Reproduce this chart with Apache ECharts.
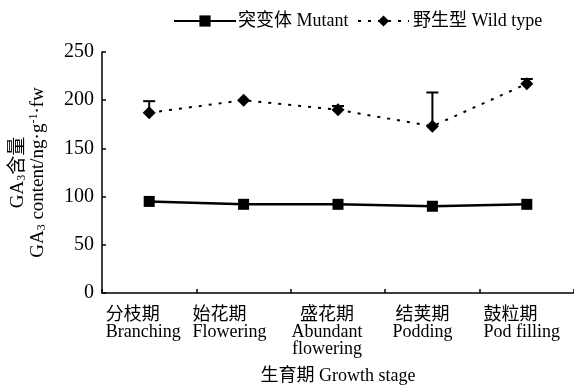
<!DOCTYPE html>
<html>
<head>
<meta charset="utf-8">
<style>
  html, body { margin: 0; padding: 0; background: #fff; }
  #chart { width: 574px; height: 390px; }
</style>
<script src="https://cdn.jsdelivr.net/npm/echarts@6/dist/echarts.min.js"></script>
</head>
<body>
<div id="chart"></div>
<script>
// Growth stages (Chinese name / English name)
const stagesZh = ['分枝期', '始花期', '盛花期', '结荚期', '鼓粒期'];
const stagesEn = ['Branching', 'Flowering', 'Abundant\nflowering', 'Podding', 'Pod filling'];

// GA3 content, ng·g-1·fw
const mutant = [95, 92, 92, 90, 92];
const wildType = [187, 200, 190, 173, 217];
const wildTypeErr = [12, 0, 4, 35, 5];

const yTicks = { min: 0, max: 250, step: 50 };

const SERIF = "'Liberation Serif', 'Noto Sans CJK SC', serif";
const INK = '#000';

// label block alignment and horizontal nudge per stage
const labelAlign = ['left', 'left', 'center', 'center', 'left'];
const labelNudge = [-6, -14, -11, -10, -5];

const chart = echarts.init(document.getElementById('chart'), null, { renderer: 'canvas' });

const categories = stagesZh.map((zh, i) => ({
  value: zh + '\n' + stagesEn[i],
  textStyle: {
    padding: labelNudge[i] < 0 ? [0, -2 * labelNudge[i], 0, 0] : [0, 0, 0, 2 * labelNudge[i]]
  }
}));

const errorBars = {
  type: 'custom',
  name: 'wild-err',
  z: 1,
  silent: true,
  data: wildType.map((v, i) => [i, v, v + wildTypeErr[i]]),
  renderItem: function (params, api) {
    const i = api.value(0);
    const lo = api.coord([i, api.value(1)]);
    const hi = api.coord([i, api.value(2)]);
    if (api.value(2) <= api.value(1)) return null;
    const half = 6;
    const st = { stroke: INK, lineWidth: 2 };
    return {
      type: 'group',
      children: [
        { type: 'line', shape: { x1: lo[0], y1: lo[1], x2: hi[0], y2: hi[1] }, style: st },
        { type: 'line', shape: { x1: hi[0] - half, y1: hi[1], x2: hi[0] + half, y2: hi[1] }, style: st }
      ]
    };
  }
};

const option = {
  backgroundColor: '#fff',
  animation: false,
  legend: [
    {
      data: ['突变体 Mutant'],
      left: 173, top: 12, padding: 0,
      itemWidth: 62, itemHeight: 14, itemGap: 0,
      textStyle: { fontFamily: SERIF, fontSize: 18, color: INK, padding: [0, 0, 0, -3] }
    },
    {
      data: ['野生型 Wild type'],
      left: 357, top: 12, padding: 0,
      itemWidth: 51, itemHeight: 14, itemGap: 0,
      textStyle: { fontFamily: SERIF, fontSize: 18, color: INK, padding: [0, 0, 0, -1] }
    }
  ],
  grid: { left: 102, right: 0, top: 52, bottom: 94, containLabel: false },
  xAxis: {
    type: 'category',
    data: categories,
    boundaryGap: true,
    name: '生育期 Growth stage',
    nameLocation: 'middle',
    nameGap: 74,
    nameTextStyle: { fontFamily: SERIF, fontSize: 18, color: INK },
    axisLine: { lineStyle: { color: INK, width: 1.5 } },
    axisTick: { show: true, inside: true, length: 4, alignWithLabel: false, lineStyle: { color: INK, width: 1.5 } },
    axisLabel: {
      interval: 0,
      margin: 14,
      color: INK,
      fontFamily: SERIF,
      fontSize: 18,
      lineHeight: 17,
      formatter: function (val, idx) {
        const key = labelAlign[idx] === 'left' ? 'l' : 'c';
        return val.split('\n').map(s => '{' + key + '|' + s + '}').join('\n');
      },
      rich: {
        l: { align: 'left', fontFamily: SERIF, fontSize: 18, lineHeight: 17, color: INK },
        c: { align: 'center', fontFamily: SERIF, fontSize: 18, lineHeight: 17, color: INK }
      }
    }
  },
  yAxis: {
    type: 'value',
    min: yTicks.min, max: yTicks.max, interval: yTicks.step,
    name: '{n|GA}{sub|3}{n|含量}\n{n|GA}{sub|3}{n| content/ng·g}{sup|-1}{n|·fw}',
    nameLocation: 'middle',
    nameGap: 54,
    nameRotate: 90,
    nameTextStyle: {
      color: INK,
      fontFamily: SERIF,
      rich: {
        n: { fontFamily: SERIF, fontSize: 19, lineHeight: 20, color: INK },
        sub: { fontFamily: SERIF, fontSize: 12, lineHeight: 11, verticalAlign: 'bottom', color: INK },
        sup: { fontFamily: SERIF, fontSize: 12, lineHeight: 11, verticalAlign: 'top', color: INK }
      }
    },
    splitLine: { show: false },
    axisLine: { show: true, lineStyle: { color: INK, width: 1.5 } },
    axisTick: { show: true, inside: true, length: 4, lineStyle: { color: INK, width: 1.5 } },
    axisLabel: { color: INK, fontFamily: SERIF, fontSize: 20, margin: 8 }
  },
  series: [
    {
      name: '突变体 Mutant',
      type: 'line',
      data: mutant,
      symbol: 'rect',
      symbolSize: 11,
      itemStyle: { color: INK },
      lineStyle: { color: INK, width: 2.5 },
      z: 3
    },
    {
      name: '野生型 Wild type',
      type: 'line',
      data: wildType,
      symbol: 'diamond',
      symbolSize: 13,
      itemStyle: { color: INK },
      lineStyle: { color: INK, width: 2, type: [3, 7] },
      z: 3
    },
    errorBars
  ]
};

chart.setOption(option);
</script>
</body>
</html>
